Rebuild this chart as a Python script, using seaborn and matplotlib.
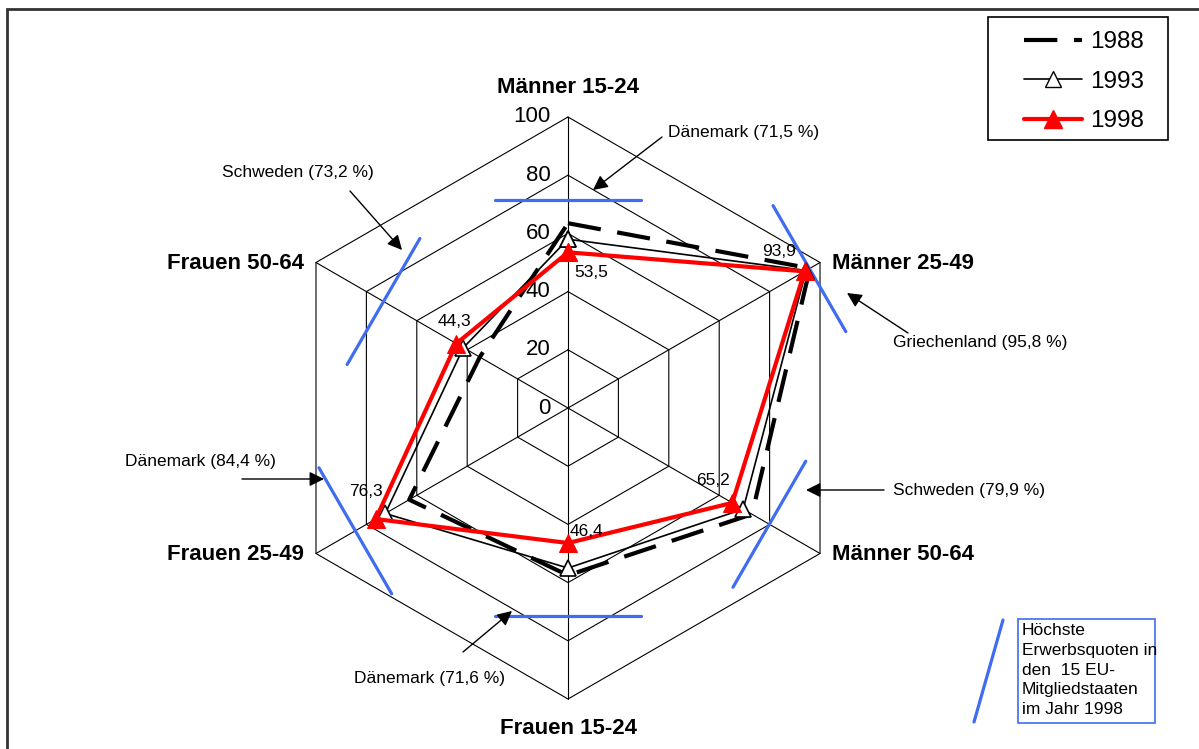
import numpy as np
import pandas as pd
import seaborn as sns
import matplotlib.pyplot as plt
from matplotlib.lines import Line2D
from matplotlib.patches import Rectangle

# --- data ---
groups = ["Männer 15-24", "Männer 25-49", "Männer 50-64",
          "Frauen 15-24", "Frauen 25-49", "Frauen 50-64"]
rate_1988 = [63.5, 96.0, 73.0, 57.5, 63.0, 35.0]
rate_1993 = [58.0, 94.5, 69.5, 55.0, 72.5, 41.5]
rate_1998 = [53.5, 93.9, 65.2, 46.4, 76.3, 44.3]
label_1998 = ["53,5", "93,9", "65,2", "46,4", "76,3", "44,3"]
highest_1998 = [71.5, 95.8, 79.9, 71.6, 84.4, 73.2]
highest_text = ["Dänemark (71,5 %)", "Griechenland (95,8 %)", "Schweden (79,9 %)",
                "Dänemark (71,6 %)", "Dänemark (84,4 %)", "Schweden (73,2 %)"]
ticks = [0, 20, 40, 60, 80, 100]

W, H = 1199, 749
CX, CY, SCALE = 568, 408, 2.91  # pixel centre and px per unit

sns.set_theme(style="white")
plt.rcParams['font.family'] = ['Liberation Sans', 'DejaVu Sans']
plt.rcParams['text.color'] = 'black'

angles = np.deg2rad([90, 30, -30, -90, -150, 150])


def to_xy(values):
    v = np.asarray(values, dtype=float)
    return v * np.cos(angles), v * np.sin(angles)


def closed(a):
    return np.append(a, a[0])


def fpx(x, y):
    """top-left pixel position -> figure fraction"""
    return x / W, 1 - y / H


fig = plt.figure(figsize=(W / 100, H / 100), dpi=100)
ax = fig.add_axes([0, 0, 1, 1])
ax.set_xlim(-CX / SCALE, (W - CX) / SCALE)
ax.set_ylim(-(H - CY) / SCALE, CY / SCALE)
ax.set_aspect('equal')
ax.axis('off')

# hexagon grid + spokes
for r in ticks[1:]:
    gx, gy = to_xy([r] * 6)
    ax.plot(closed(gx), closed(gy), color='black', lw=0.8, zorder=1)
for a in angles:
    ax.plot([0, 100 * np.cos(a)], [0, 100 * np.sin(a)], color='black', lw=0.8, zorder=1)
for r in ticks:
    ax.text(-6, r, str(r), ha='right', va='center', fontsize=16, zorder=2)

# axis labels
lab_pos = [(0, 110, 'center'), (4, 0, 'left'), (4, 0, 'left'),
           (0, -110, 'center'), (-4, 0, 'right'), (-4, 0, 'right')]
for name, a, (dx, dy, ha) in zip(groups, angles, lab_pos):
    if ha == 'center':
        x, y = 0, dy
    else:
        x, y = 100 * np.cos(a) + dx, 100 * np.sin(a) - 0.5
    ax.text(x, y, name, ha=ha, va='center', fontsize=16, fontweight='bold', zorder=3)

# highest rates: blue bars perpendicular to each axis
blue = '#3f6cf0'
half = 25
for v, a in zip(highest_1998, angles):
    cx, cy = v * np.cos(a), v * np.sin(a)
    dx, dy = -np.sin(a) * half, np.cos(a) * half
    ax.plot([cx - dx, cx + dx], [cy - dy, cy + dy], color=blue, lw=2.3, zorder=2)

# series
frames = []
for year, vals in [("1988", rate_1988), ("1993", rate_1993), ("1998", rate_1998)]:
    x, y = to_xy(vals)
    frames.append(pd.DataFrame({"x": closed(x), "y": closed(y), "year": year}))
df = pd.concat(frames, ignore_index=True)

sns.lineplot(data=df[df.year == "1988"], x="x", y="y", sort=False, estimator=None,
             color='black', lw=3, linestyle=(0, (8, 4)), ax=ax, zorder=4)
sns.lineplot(data=df[df.year == "1993"], x="x", y="y", sort=False, estimator=None,
             color='black', lw=1.2, marker='^', markersize=12, markerfacecolor='white',
             markeredgecolor='black', markeredgewidth=1.2, ax=ax, zorder=5)
sns.lineplot(data=df[df.year == "1998"], x="x", y="y", sort=False, estimator=None,
             color='red', lw=3, marker='^', markersize=13, markerfacecolor='red',
             markeredgecolor='red', ax=ax, zorder=6)

# value labels of 1998
offsets = [(23, -20), (-26, 20), (-19, 22), (18, 12), (-10, 28), (-2, 22)]
x98, y98 = to_xy(rate_1998)
for t, x, y, off in zip(label_1998, x98, y98, offsets):
    ax.annotate(t, (x, y), xytext=off, textcoords='offset pixels',
                ha='center', va='center', fontsize=12.5, zorder=7)

# annotations with arrows (text anchor, ha, arrow tail, arrow head) in pixels
notes = [((668, 133), 'left', (662, 137), (593, 190)),
         ((893, 343), 'left', (908, 333), (847, 293)),
         ((893, 491), 'left', (884, 490), (806, 490)),
         ((354, 678), 'left', (463, 652), (512, 611)),
         ((125, 461), 'left', (242, 479), (324, 479)),
         ((222, 172), 'left', (350, 191), (402, 250))]
for t, (tp, ha, tail, head) in zip(highest_text, notes):
    fig.text(*fpx(*tp), t, ha=ha, va='center', fontsize=12.5)
    ax.annotate('', xy=fpx(*head), xycoords='figure fraction',
                xytext=fpx(*tail), textcoords='figure fraction',
                arrowprops=dict(arrowstyle='-|>', color='black', lw=1,
                                mutation_scale=22, shrinkA=0, shrinkB=0))

# legend (frame drawn separately so the padding can match)
handles = [Line2D([], [], color='black', lw=3, linestyle=(0, (8, 4))),
           Line2D([], [], color='black', lw=1.2, marker='^', markersize=12,
                  markerfacecolor='white', markeredgecolor='black'),
           Line2D([], [], color='red', lw=3, marker='^', markersize=13)]
fig.legend(handles, ["1988", "1993", "1998"], loc='upper left',
           bbox_to_anchor=fpx(1024, 31), fontsize=17.5, frameon=False,
           handlelength=2.4, handletextpad=0.3, labelspacing=0.72,
           borderpad=0, borderaxespad=0)
fig.add_artist(Rectangle(fpx(988, 140), 180 / W, 123 / H, fill=False,
                         edgecolor='black', lw=1.2, transform=fig.transFigure))

# key for the blue bars
fig.add_artist(Line2D([974 / W, 1003 / W], [1 - 722 / H, 1 - 620 / H], color=blue, lw=2.3))
fig.add_artist(Rectangle(fpx(1018, 723), 137 / W, 104 / H, fill=False,
                         edgecolor=blue, lw=1.2, transform=fig.transFigure))
fig.text(*fpx(1022, 623), "Höchste\nErwerbsquoten in\nden  15 EU-\nMitgliedstaaten\nim Jahr 1998",
         ha='left', va='top', fontsize=12.5, linespacing=1.4)

# outer frame
fig.add_artist(Rectangle(fpx(7, 760), 1200 / W, 751 / H, fill=False,
                         edgecolor='#333333', lw=2, transform=fig.transFigure))

fig.savefig("out.png", dpi=100)
